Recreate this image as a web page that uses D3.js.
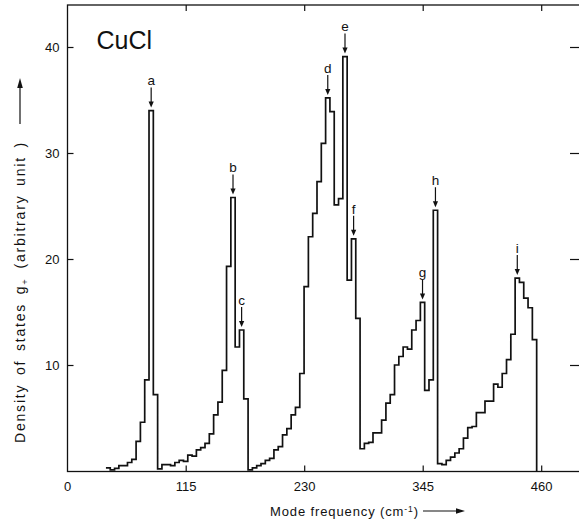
<!DOCTYPE html>
<html>
<head>
<meta charset="utf-8">
<script src="https://cdn.jsdelivr.net/npm/d3@7"></script>
<style>
  body { margin: 0; background: #fff; }
  svg { display: block; }
  text { font-family: "Liberation Sans", Arial, sans-serif; fill: #111; }
</style>
</head>
<body>
<script>
const WIDTH = 579;
const HEIGHT = 523;

// histogram bins (cm^-1)
const FIRST_BIN = 37.6;
const BIN_WIDTH = 4.18;

// density of states g+ per bin
const density = [
  0.3, 0.1, 0.25, 0.5, 0.5, 0.8, 1.1, 2.8, 4.6, 8.6,
  34.0, 7.2, 0.2, 0.6, 0.6, 0.5, 0.8, 1.0, 0.9, 1.5,
  1.4, 2.0, 2.2, 2.6, 3.5, 5.3, 6.5, 9.5, 19.3, 25.8,
  11.7, 13.3, 6.8, 0.1, 0.3, 0.5, 0.7, 1.0, 1.2, 2.0,
  2.3, 3.4, 4.0, 5.3, 6.0, 9.2, 17.4, 22.1, 24.3, 27.3,
  30.9, 35.2, 33.9, 25.1, 25.7, 39.1, 18.0, 21.9, 14.4, 2.1,
  2.6, 2.7, 3.6, 3.6, 4.8, 6.4, 7.2, 10.0, 10.8, 11.7,
  11.5, 13.3, 14.2, 15.9, 7.6, 8.6, 24.6, 0.7, 0.6, 1.0,
  1.3, 1.7, 2.1, 3.1, 4.1, 4.2, 5.5, 5.5, 6.6, 6.6,
  8.2, 7.9, 9.2, 10.5, 12.9, 18.2, 17.8, 16.3, 15.4, 12.4
];

const peakLabels = ["a", "b", "c", "d", "e", "f", "g", "h", "i"];
const peakBins = [10, 29, 31, 51, 55, 57, 73, 76, 95];

const xTicks = [0, 115, 230, 345, 460];
const yTicks = [10, 20, 30, 40];

const frame = { left: 67.5, right: 580, top: 5, bottom: 471.5 };

const svg = d3.select("body").append("svg")
  .attr("width", WIDTH)
  .attr("height", HEIGHT);

const x = d3.scaleLinear().domain([0, 460]).range([67.2, 541.2]);
const y = d3.scaleLinear().domain([0, 40]).range([471, 47]);

// frame
svg.append("rect")
  .attr("x", frame.left).attr("y", frame.top)
  .attr("width", frame.right - frame.left)
  .attr("height", frame.bottom - frame.top)
  .attr("fill", "none").attr("stroke", "#111").attr("stroke-width", 1.3);

const styleAxis = (g) => {
  g.select(".domain").remove();
  g.selectAll("line").attr("stroke", "#111").attr("stroke-width", 1.2);
  g.selectAll("text").style("font-size", "13px").attr("fill", "#111");
};

svg.append("g")
  .attr("transform", `translate(0,${frame.bottom})`)
  .call(d3.axisBottom(x).tickValues(xTicks).tickSize(-6).tickPadding(10))
  .call(styleAxis)
  .call((g) => g.selectAll(".tick").filter((d) => d === 0).select("line").remove());

svg.append("g")
  .attr("transform", `translate(0,${frame.top})`)
  .call(d3.axisTop(x).tickValues(xTicks.slice(1)).tickSize(-6).tickFormat(""))
  .call(styleAxis);

svg.append("g")
  .attr("transform", `translate(${frame.left},0)`)
  .call(d3.axisLeft(y).tickValues(yTicks).tickSize(-6).tickPadding(8))
  .call(styleAxis);

svg.append("g")
  .attr("transform", `translate(${frame.right},0)`)
  .call(d3.axisRight(y).tickValues(yTicks).tickSize(-10).tickFormat(""))
  .call(styleAxis);

// histogram as a step line
const points = density.map((v, i) => [FIRST_BIN + i * BIN_WIDTH, v]);
const lastEdge = FIRST_BIN + density.length * BIN_WIDTH;
points.push([lastEdge, density[density.length - 1]]);
points.push([lastEdge, 0]);

const line = d3.line()
  .x((d) => x(d[0]))
  .y((d) => y(d[1]))
  .curve(d3.curveStepAfter);

svg.append("path")
  .datum(points)
  .attr("d", line)
  .attr("fill", "none")
  .attr("stroke", "#111")
  .attr("stroke-width", 1.7)
  .attr("stroke-linejoin", "miter");

// peak markers
const peaks = peakLabels.map((label, i) => ({
  label,
  f: FIRST_BIN + (peakBins[i] + 0.5) * BIN_WIDTH,
  v: density[peakBins[i]],
}));

const peak = svg.append("g").selectAll("g").data(peaks).join("g")
  .attr("transform", (d) => `translate(${x(d.f)},${y(d.v)})`);

peak.append("text")
  .attr("y", -30)
  .attr("dy", "0.35em")
  .attr("text-anchor", "middle")
  .style("font-size", "13.5px")
  .text((d) => d.label);

peak.append("line")
  .attr("y1", -23).attr("y2", -8)
  .attr("stroke", "#111").attr("stroke-width", 1.2);

peak.append("path")
  .attr("d", "M-2.6,-9 L2.6,-9 L0,-3 Z")
  .attr("fill", "#111");

// compound name
svg.append("text")
  .attr("x", 96.5).attr("y", 48.5)
  .style("font-size", "25px")
  .text("CuCl");

// x axis title
const xTitle = svg.append("text")
  .attr("x", 270).attr("y", 515.5)
  .attr("textLength", 148).attr("lengthAdjust", "spacing")
  .style("font-size", "13px");
xTitle.append("tspan").text("Mode frequency (cm");
xTitle.append("tspan").attr("dy", -4).style("font-size", "8.5px").text("-1");
xTitle.append("tspan").attr("dy", 4).text(")");

svg.append("line")
  .attr("x1", 423).attr("x2", 460).attr("y1", 511).attr("y2", 511)
  .attr("stroke", "#111").attr("stroke-width", 1.2);
svg.append("path")
  .attr("d", "M456,508.2 L465,511 L456,513.8 Z")
  .attr("fill", "#111");

// y axis title
const yTitle = svg.append("text")
  .attr("transform", "translate(25,443) rotate(-90)")
  .style("font-size", "14px")
  .style("letter-spacing", "1.8px")
  .style("word-spacing", "3px");
yTitle.append("tspan").text("Density of states g");
yTitle.append("tspan").attr("dy", 3).style("font-size", "9.5px").text("+");
yTitle.append("tspan").attr("dy", -3).text(" (arbitrary unit )");

svg.append("line")
  .attr("x1", 20).attr("x2", 20).attr("y1", 124).attr("y2", 86)
  .attr("stroke", "#111").attr("stroke-width", 1.2);
svg.append("path")
  .attr("d", "M17.2,88 L20,78 L22.8,88 Z")
  .attr("fill", "#111");
</script>
</body>
</html>
